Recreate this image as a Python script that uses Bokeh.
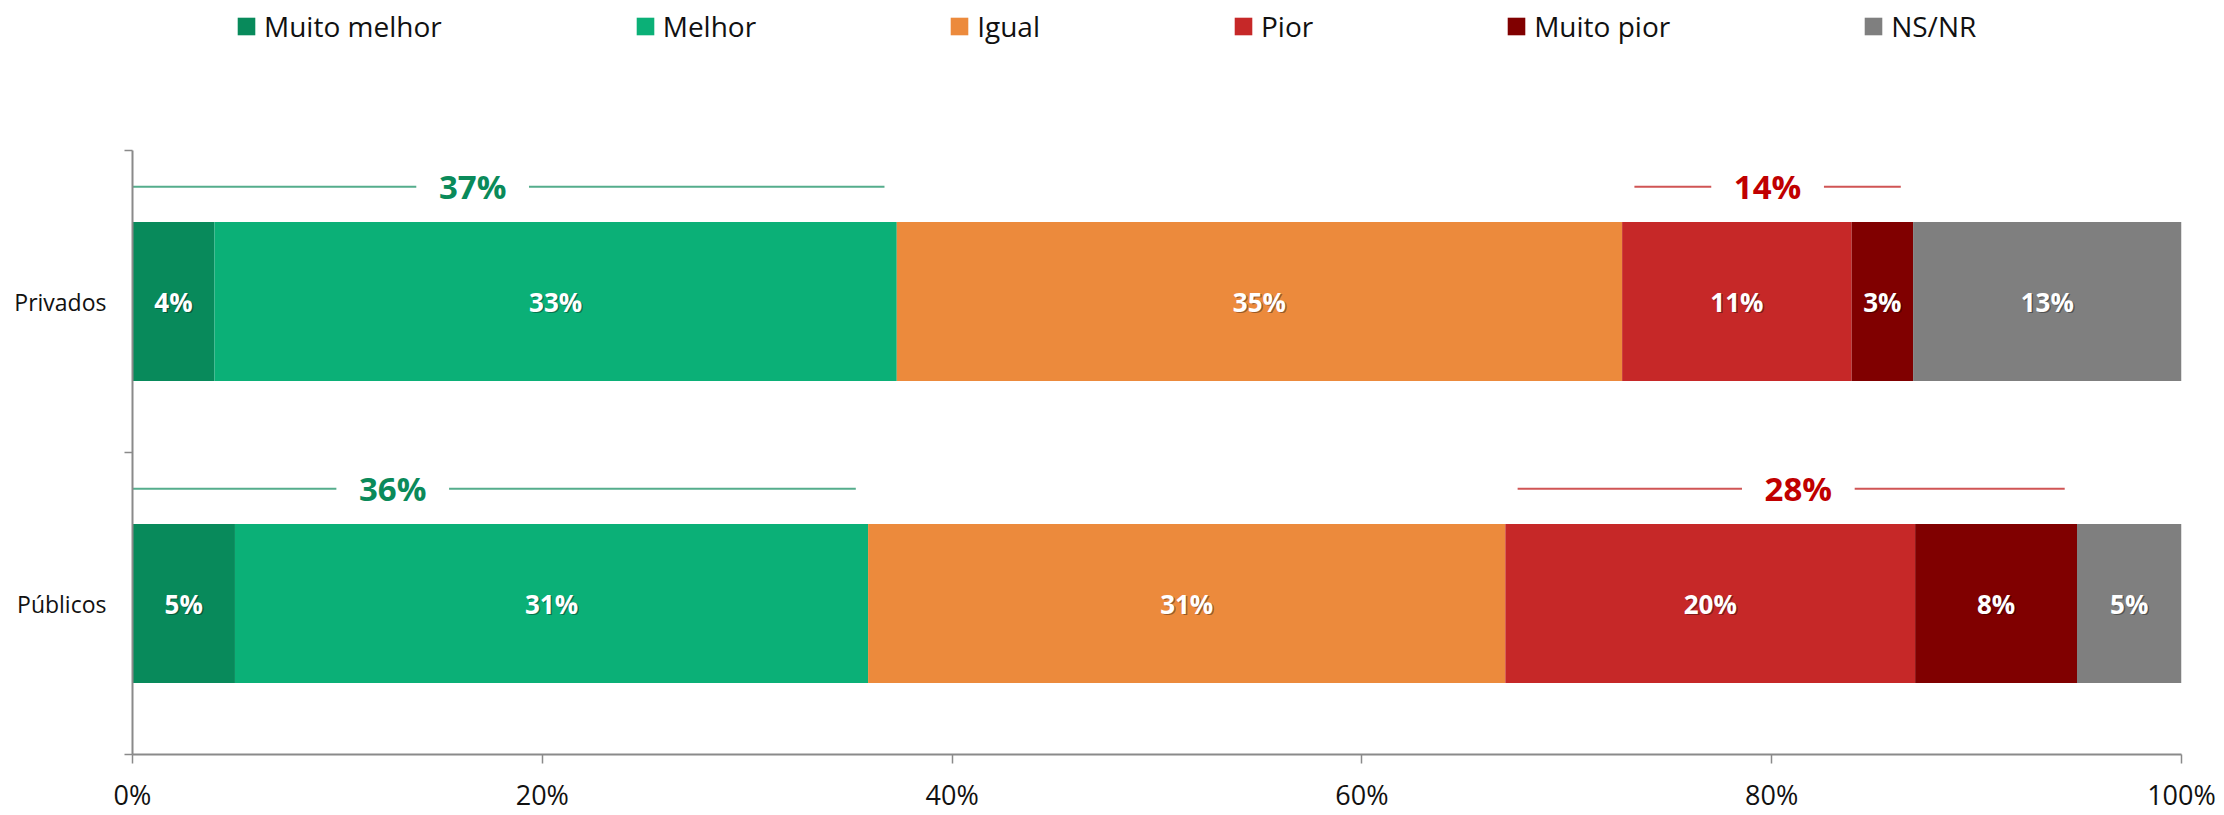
from bokeh.plotting import figure
from bokeh.models import (ColumnDataSource, Legend, LegendItem, FixedTicker,
                          PrintfTickFormatter, Range1d)
from bokeh.core.properties import value
from bokeh.embed import file_html
from bokeh.resources import INLINE

# ---------------- data ----------------
categories = ["Privados", "Públicos"]
series = ["Muito melhor", "Melhor", "Igual", "Pior", "Muito pior", "NS/NR"]
privados = [4.0, 33.3, 35.4, 11.2, 3.0, 13.1]
publicos = [5.0, 30.9, 31.1, 20.0, 7.9, 5.1]
value_labels_privados = ["4%", "33%", "35%", "11%", "3%", "13%"]
value_labels_publicos = ["5%", "31%", "31%", "20%", "8%", "5%"]
x_ticks = [0, 20, 40, 60, 80, 100]

# ---------------- styles ----------------
colors = ["#088a5b", "#0bb077", "#ec8a3c", "#c62828", "#800000", "#7f7f7f"]
FONT = "Open Sans"
AXIS_GRAY = "#8a8a8a"
GREEN_TXT, GREEN_LINE = "#0a8a5a", "#55ad8c"
RED_TXT, RED_LINE = "#c00000", "#d05555"

rows = [privados, publicos]
row_labels = [value_labels_privados, value_labels_publicos]
n = len(categories)
# numeric positions for categories (top to bottom)
ypos = [n - i - 0.5 for i in range(n)]
BAR_H = 0.526
# frame spans the whole height above the x axis; categories use the lower part
FRAME_H, CAT_H = 759, 608
Y_TOP = n * FRAME_H / CAT_H

p = figure(width=2224, height=815, output_backend="svg", toolbar_location=None,
           x_range=Range1d(0, 100), y_range=Range1d(0, Y_TOP),
           min_border_left=132, min_border_right=43, min_border_top=0,
           min_border_bottom=56)
p.outline_line_color = None
p.xgrid.grid_line_color = None
p.ygrid.grid_line_color = None
p.background_fill_color = "white"

legend_items = []
for j, name in enumerate(series):
    lefts, rights, ys, mids, labs = [], [], [], [], []
    for i, row in enumerate(rows):
        left = sum(row[:j])
        lefts.append(left)
        rights.append(left + row[j])
        ys.append(ypos[i])
        mids.append(left + row[j] / 2)
        labs.append(row_labels[i][j])
    src = ColumnDataSource(dict(y=ys, left=lefts, right=rights, x=mids, label=labs))
    r = p.hbar(y="y", left="left", right="right", height=BAR_H, source=src,
               fill_color=colors[j], line_color=None)
    legend_items.append(LegendItem(label=name, renderers=[r]))
    # subtle shadow + white label
    p.text(x="x", y="y", text="label", source=src, text_color="black", text_alpha=0.35,
           text_align="center", text_baseline="middle", x_offset=1.5, y_offset=1.5,
           text_font=value(FONT), text_font_style="bold", text_font_size="26px")
    p.text(x="x", y="y", text="label", source=src, text_color="white",
           text_align="center", text_baseline="middle",
           text_font=value(FONT), text_font_style="bold", text_font_size="26px")

# ---------------- group brackets ----------------
# (series indices in group, colour pair, label centre for each row)
groups = [
    ([0, 1], GREEN_TXT, GREEN_LINE, [16.6, 12.7]),
    ([3, 4], RED_TXT, RED_LINE, [79.8, 81.3]),
]
GAP = 2.75
INSET = 0.6
BRACKET_DY = 0.38
for idx, tcol, lcol, label_x in groups:
    for i, row in enumerate(rows):
        start = sum(row[:idx[0]])
        end = sum(row[:idx[-1] + 1])
        total = sum(row[k] for k in idx)
        x0 = start + INSET if start > 0 else start
        x1 = end - INSET
        yb = ypos[i] + BRACKET_DY
        lx = label_x[i]
        p.segment(x0=[x0, lx + GAP], x1=[lx - GAP, x1], y0=[yb, yb], y1=[yb, yb],
                  line_color=lcol, line_width=2)
        p.text(x=[lx], y=[yb], text=[f"{round(total)}%"], text_color=tcol,
               text_align="center", text_baseline="middle",
               text_font=value(FONT), text_font_style="bold", text_font_size="33px")

# ---------------- axes ----------------
xa = p.xaxis[0]
xa.ticker = FixedTicker(ticks=x_ticks)
xa.formatter = PrintfTickFormatter(format="%d%%")
xa.axis_line_color = AXIS_GRAY
xa.axis_line_width = 2
xa.major_tick_line_color = AXIS_GRAY
xa.major_tick_line_width = 1.5
xa.major_tick_out = 9
xa.major_tick_in = 0
xa.minor_tick_line_color = None
xa.major_label_standoff = 12
xa.major_label_text_line_height = 1.0
xa.major_label_text_font = FONT
xa.major_label_text_font_size = "27px"
xa.major_label_text_color = "#111111"

ya = p.yaxis[0]
ya.bounds = (0, n)
ya.ticker = FixedTicker(ticks=ypos, minor_ticks=[float(k) for k in range(n + 1)])
ya.major_label_overrides = {ypos[i]: categories[i] for i in range(n)}
ya.axis_line_color = AXIS_GRAY
ya.axis_line_width = 2
ya.major_tick_out = 0
ya.major_tick_in = 0
ya.major_tick_line_color = None
ya.minor_tick_out = 8
ya.minor_tick_in = 0
ya.minor_tick_line_color = AXIS_GRAY
ya.minor_tick_line_width = 1.5
ya.major_label_standoff = 18
ya.major_label_text_font = FONT
ya.major_label_text_font_size = "23px"
ya.major_label_text_color = "#111111"

# ---------------- legend ----------------
legend = Legend(items=legend_items, orientation="horizontal", location=(103, 709),
                glyph_width=22, glyph_height=22, label_standoff=7, spacing=192,
                padding=0, margin=0, border_line_color=None, background_fill_alpha=0,
                label_text_font=FONT, label_text_font_size="28px",
                label_text_color="#111111")
p.add_layout(legend, "center")

open("out.html", "w").write(file_html(p, INLINE))
